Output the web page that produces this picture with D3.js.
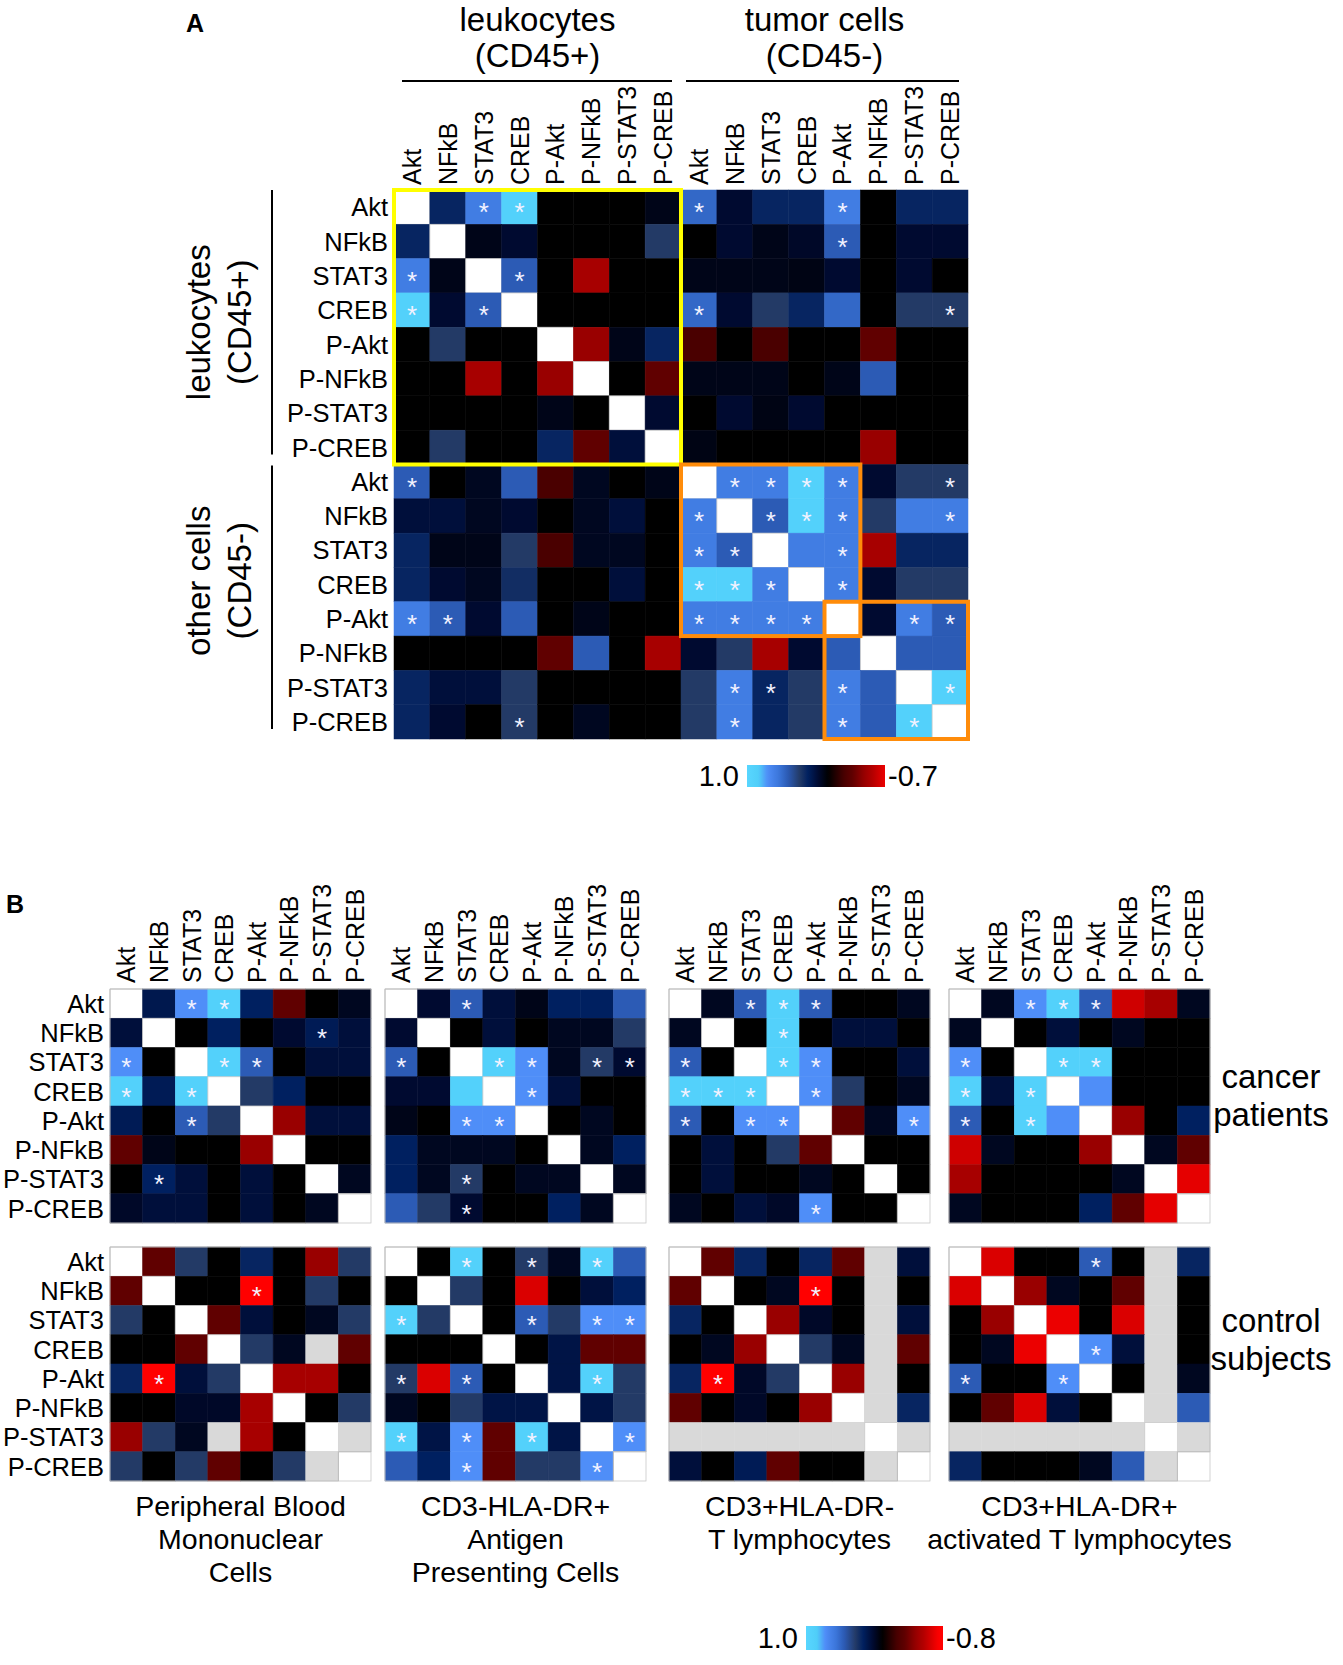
<!DOCTYPE html>
<html>
<head>
<meta charset="utf-8">
<script src="https://cdn.jsdelivr.net/npm/d3@7"></script>
<style>
  body { margin: 0; background: #fff; }
  text { font-family: "Liberation Sans", Arial, sans-serif; fill: #000; }
</style>
</head>
<body>
<svg id="chart" width="1343" height="1665"></svg>
<script>
// ---- data ----
const markers = ["Akt", "NFkB", "STAT3", "CREB", "P-Akt", "P-NFkB", "P-STAT3", "P-CREB"];

// panel A: rows = leukocytes then other cells, columns = leukocytes then tumor cells
const aTopGroups = [["leukocytes", "(CD45+)"], ["tumor cells", "(CD45-)"]];
const aSideGroups = [["leukocytes", "(CD45+)"], ["other cells", "(CD45-)"]];
const aValues = [
  [1, 0.27, 0.65, 0.92, 0, 0, 0, 0.06, 0.55, 0.12, 0.27, 0.27, 0.65, 0, 0.27, 0.27],
  [0.27, 1, 0.06, 0.12, 0, 0, 0, 0.35, 0, 0.12, 0.06, 0.1, 0.5, 0, 0.12, 0.12],
  [0.65, 0.06, 1, 0.5, 0, -0.5, 0, 0, 0.06, 0.06, 0.06, 0.05, 0.12, 0, 0.12, 0],
  [0.92, 0.12, 0.5, 1, 0, 0, 0, 0, 0.55, 0.12, 0.35, 0.27, 0.55, 0, 0.35, 0.35],
  [0, 0.35, 0, 0, 1, -0.45, 0.06, 0.27, -0.2, 0, -0.2, 0, 0, -0.3, 0, 0],
  [0, 0, -0.5, 0, -0.45, 1, 0, -0.3, 0.06, 0.06, 0.06, 0, 0.06, 0.5, 0, 0],
  [0, 0, 0, 0, 0.06, 0, 1, 0.12, 0, 0.12, 0.05, 0.12, 0, 0, 0, 0],
  [0, 0.35, 0, 0, 0.27, -0.3, 0.15, 1, 0.05, 0, 0, 0, 0, -0.45, 0, 0],
  [0.5, 0, 0.08, 0.5, -0.2, 0.08, 0, 0.06, 1, 0.65, 0.65, 0.92, 0.65, 0.12, 0.35, 0.35],
  [0.15, 0.15, 0.08, 0.12, 0, 0.08, 0.15, 0, 0.65, 1, 0.5, 0.92, 0.65, 0.35, 0.65, 0.65],
  [0.27, 0.06, 0.06, 0.35, -0.2, 0.08, 0.08, 0, 0.65, 0.5, 1, 0.65, 0.65, -0.5, 0.27, 0.27],
  [0.27, 0.12, 0.08, 0.3, 0, 0, 0.15, 0, 0.92, 0.92, 0.65, 1, 0.65, 0.12, 0.35, 0.35],
  [0.65, 0.5, 0.12, 0.5, 0, 0.06, 0, 0, 0.65, 0.65, 0.65, 0.65, 1, 0.12, 0.65, 0.5],
  [0, 0, 0, 0, -0.3, 0.5, 0, -0.5, 0.12, 0.35, -0.5, 0.12, 0.5, 1, 0.5, 0.5],
  [0.27, 0.15, 0.15, 0.35, 0, 0, 0, 0, 0.35, 0.65, 0.27, 0.35, 0.65, 0.5, 1, 0.92],
  [0.27, 0.12, 0, 0.35, 0, 0.08, 0, 0, 0.35, 0.65, 0.27, 0.35, 0.65, 0.5, 0.92, 1]
];
// column indices of significant cells (*) per row
const aStars = [
  [2, 3, 8, 12], [12], [0, 3], [0, 2, 8, 15], [], [], [], [],
  [0, 9, 10, 11, 12, 15], [8, 10, 11, 12, 15], [8, 9, 12], [8, 9, 10, 12],
  [0, 1, 8, 9, 10, 11, 14, 15], [], [9, 10, 12, 15], [3, 9, 12, 14]
];
const aRange = [1.0, -0.7];

// panel B
const bPanelTitles = [
  ["Peripheral Blood", "Mononuclear", "Cells"],
  ["CD3-HLA-DR+", "Antigen", "Presenting Cells"],
  ["CD3+HLA-DR-", "T lymphocytes"],
  ["CD3+HLA-DR+", "activated T lymphocytes"]
];
const bRowTitles = [["cancer", "patients"], ["control", "subjects"]];
const bRange = [1.0, -0.8];

const pbmcCancer = [
  [1, 0.2, 0.75, 0.92, 0.25, -0.3, 0, 0.08],
  [0.15, 1, 0, 0.25, 0, 0.12, 0.22, 0.15],
  [0.75, 0, 1, 0.92, 0.5, 0, 0.15, 0.15],
  [0.92, 0.22, 0.92, 1, 0.35, 0.25, 0, 0],
  [0.22, 0, 0.5, 0.35, 1, -0.45, 0.15, 0.15],
  [-0.3, 0.06, 0, 0, -0.45, 1, 0, 0],
  [0, 0.25, 0.15, 0, 0.15, 0, 1, 0.08],
  [0.1, 0.15, 0.15, 0, 0.15, 0, 0.08, 1]
];
const pbmcCancerStars = [[2, 3], [6], [0, 3, 4], [0, 2], [2], [], [1], []];

const apcCancer = [
  [1, 0.12, 0.5, 0.15, 0.06, 0.25, 0.25, 0.5],
  [0.12, 1, 0, 0.15, 0, 0.08, 0.08, 0.35],
  [0.5, 0, 1, 0.92, 0.75, 0.08, 0.35, 0.12],
  [0.12, 0.12, 0.92, 1, 0.75, 0.15, 0, 0],
  [0.06, 0, 0.75, 0.75, 1, 0, 0.08, 0],
  [0.25, 0.08, 0.08, 0.08, 0, 1, 0.08, 0.25],
  [0.25, 0.08, 0.35, 0, 0.08, 0.08, 1, 0.08],
  [0.5, 0.35, 0.12, 0, 0, 0.25, 0.08, 1]
];
const apcCancerStars = [[2], [], [0, 3, 4, 6, 7], [4], [2, 3], [], [2], [2]];

const tCancer = [
  [1, 0.08, 0.5, 0.92, 0.5, 0, 0, 0.08],
  [0.08, 1, 0, 0.92, 0, 0.15, 0.15, 0],
  [0.5, 0, 1, 0.92, 0.75, 0, 0, 0.15],
  [0.92, 0.92, 0.92, 1, 0.75, 0.35, 0, 0.08],
  [0.5, 0, 0.75, 0.75, 1, -0.3, 0.08, 0.75],
  [0, 0.15, 0, 0.35, -0.3, 1, 0, 0],
  [0, 0.15, 0, 0, 0.08, 0, 1, 0],
  [0.08, 0, 0.15, 0.1, 0.75, 0, 0, 1]
];
const tCancerStars = [[2, 3, 4], [3], [0, 3, 4], [0, 1, 2, 4], [0, 2, 3, 7], [], [], [4]];

const actCancer = [
  [1, 0.08, 0.75, 0.92, 0.5, -0.62, -0.5, 0.08],
  [0.08, 1, 0, 0.15, 0, 0.08, 0, 0],
  [0.75, 0, 1, 0.92, 0.92, 0, 0, 0],
  [0.92, 0.15, 0.92, 1, 0.75, 0, 0, 0],
  [0.5, 0, 0.92, 0.75, 1, -0.45, 0, 0.25],
  [-0.62, 0.08, 0, 0, -0.45, 1, 0.08, -0.3],
  [-0.5, 0, 0, 0, 0, 0.08, 1, -0.68],
  [0.08, 0, 0, 0, 0.25, -0.3, -0.68, 1]
];
const actCancerStars = [[2, 3, 4], [], [0, 3, 4], [0, 2], [0, 2], [], [], []];

const pbmcControl = [
  [1, -0.3, 0.35, 0, 0.27, 0, -0.45, 0.35],
  [-0.3, 1, 0, 0, -0.78, 0, 0.35, 0],
  [0.35, 0, 1, -0.3, 0.15, 0, 0.08, 0.35],
  [0, 0, -0.3, 1, 0.35, 0.08, null, -0.3],
  [0.27, -0.78, 0.15, 0.35, 1, -0.5, -0.5, 0],
  [0, 0, 0.1, 0.1, -0.5, 1, 0, 0.35],
  [-0.45, 0.35, 0.08, null, -0.5, 0, 1, null],
  [0.35, 0, 0.35, -0.3, 0, 0.35, null, 1]
];
const pbmcControlStars = [[], [4], [], [], [1], [], [], []];

const apcControl = [
  [1, 0, 0.92, 0, 0.35, 0.08, 0.92, 0.5],
  [0, 1, 0.35, 0, -0.65, 0, 0.15, 0.25],
  [0.92, 0.35, 1, 0, 0.5, 0.35, 0.75, 0.75],
  [0, 0, 0, 1, 0, 0.18, -0.3, -0.3],
  [0.35, -0.65, 0.5, 0, 1, 0.18, 0.92, 0.35],
  [0.08, 0, 0.35, 0.18, 0.18, 1, 0.18, 0.35],
  [0.92, 0.18, 0.75, -0.3, 0.92, 0.18, 1, 0.75],
  [0.5, 0.25, 0.75, -0.3, 0.35, 0.35, 0.75, 1]
];
const apcControlStars = [[2, 4, 6], [], [0, 4, 6, 7], [], [0, 2, 6], [], [0, 2, 4, 7], [2, 6]];

const tControl = [
  [1, -0.3, 0.27, 0, 0.27, -0.3, null, 0.15],
  [-0.3, 1, 0, 0.08, -0.78, 0, null, 0],
  [0.27, 0, 1, -0.45, 0.1, 0, null, 0.15],
  [0, 0.08, -0.45, 1, 0.35, 0.08, null, -0.3],
  [0.27, -0.78, 0.1, 0.35, 1, -0.45, null, 0],
  [-0.3, 0, 0.1, 0, -0.45, 1, null, 0.27],
  [null, null, null, null, null, null, 1, null],
  [0.15, 0, 0.22, -0.3, 0, 0, null, 1]
];
const tControlStars = [[], [4], [], [], [1], [], [], []];

const actControl = [
  [1, -0.65, 0, 0, 0.5, 0, null, 0.27],
  [-0.65, 1, -0.45, 0.08, 0, -0.3, null, 0],
  [0, -0.45, 1, -0.7, 0, -0.65, null, 0],
  [0, 0.08, -0.7, 1, 0.75, 0.15, null, 0],
  [0.5, 0, 0, 0.75, 1, 0, null, 0.08],
  [0, -0.3, -0.65, 0.15, 0, 1, null, 0.5],
  [null, null, null, null, null, null, 1, null],
  [0.27, 0, 0, 0, 0.08, 0.5, null, 1]
];
const actControlStars = [[4], [], [], [4], [0, 3], [], [], []];

const bCancer = [pbmcCancer, apcCancer, tCancer, actCancer];
const bCancerStars = [pbmcCancerStars, apcCancerStars, tCancerStars, actCancerStars];
const bControl = [pbmcControl, apcControl, tControl, actControl];
const bControlStars = [pbmcControlStars, apcControlStars, tControlStars, actControlStars];

// ---- drawing ----
const svg = d3.select("#chart");

// correlation colour scale: cyan (1.0) -> blue -> black (0) -> red (negative)
const color = d3.scaleLinear()
  .domain([1.0, 0.85, 0.75, 0.6, 0.5, 0.35, 0.25, 0.12, 0, -0.2, -0.3, -0.45, -0.55, -0.75])
  .range(["#58d6ff", "#4fcdf8", "#4f8ef8", "#3a74d8", "#2c5bb5", "#233a66", "#002060", "#000a30",
          "#000000", "#4a0000", "#600000", "#990000", "#b50000", "#ff0000"])
  .clamp(true);

function cellFill(d) {
  if (d.r === d.c) return "#ffffff";
  if (d.v === null) return "#d9d9d9";
  return color(d.v);
}

// draws one n x n correlation matrix, returns its band scales
function drawMatrix(g, values, stars, x0, y0, w, h, starSize, outline) {
  const n = values.length;
  const x = d3.scaleBand().domain(d3.range(n)).range([x0, x0 + w]);
  const y = d3.scaleBand().domain(d3.range(n)).range([y0, y0 + h]);
  const cells = values.flatMap((row, r) => row.map((v, c) => ({ r, c, v })));

  g.append("g").selectAll("rect")
    .data(cells)
    .join("rect")
    .attr("x", d => x(d.c))
    .attr("y", d => y(d.r))
    .attr("width", x.bandwidth())
    .attr("height", y.bandwidth())
    .attr("fill", cellFill)
    .attr("stroke", d => d.r === d.c ? "#c8c8c8" : cellFill(d))
    .attr("stroke-width", d => d.r === d.c ? 0.8 : 0.5);

  if (outline) {
    // thin frame, left open around the last diagonal cell
    const x1 = x0 + w, y1 = y0 + h, bw = x.bandwidth(), bh = y.bandwidth();
    g.append("path")
      .attr("d", `M${x0},${y0}H${x1}V${y1 - bh}H${x1 - bw}V${y1}H${x0}Z`)
      .attr("fill", "none")
      .attr("stroke", "#bdbdbd")
      .attr("stroke-width", 1);
  }

  const starCells = stars.flatMap((cols, r) => cols.map(c => ({ r, c })));
  g.append("g").selectAll("text")
    .data(starCells)
    .join("text")
    .attr("x", d => x(d.c) + x.bandwidth() / 2)
    .attr("y", d => y(d.r) + y.bandwidth() / 2 + starSize * 0.55)
    .attr("text-anchor", "middle")
    .style("font-size", starSize + "px")
    .style("fill", "#f2f2ff")
    .text("*");

  return { x, y };
}

function columnLabels(g, x, names, bottom, size) {
  g.append("g").selectAll("text")
    .data(names)
    .join("text")
    .attr("transform", (d, i) => `translate(${x(i) + x.bandwidth() / 2 + size * 0.36},${bottom}) rotate(-90)`)
    .style("font-size", size + "px")
    .text(d => d);
}

function rowLabels(g, y, names, right, size) {
  g.append("g").selectAll("text")
    .data(names)
    .join("text")
    .attr("x", right)
    .attr("y", (d, i) => y(i) + y.bandwidth() / 2 + size * 0.36)
    .attr("text-anchor", "end")
    .style("font-size", size + "px")
    .text(d => d);
}

function legend(g, range, x0, y0, w, h, size, id) {
  const grad = svg.append("defs").append("linearGradient").attr("id", id);
  const ts = d3.range(0, 1.0001, 0.02);
  grad.selectAll("stop")
    .data(ts)
    .join("stop")
    .attr("offset", t => t)
    .attr("stop-color", t => color(range[0] + t * (range[1] - range[0])));
  g.append("rect")
    .attr("x", x0).attr("y", y0)
    .attr("width", w).attr("height", h)
    .attr("fill", `url(#${id})`);
  g.append("text")
    .attr("x", x0 - 8).attr("y", y0 + h / 2 + size * 0.36)
    .attr("text-anchor", "end")
    .style("font-size", size + "px")
    .text(range[0].toFixed(1));
  g.append("text")
    .attr("x", x0 + w + 3).attr("y", y0 + h / 2 + size * 0.36)
    .style("font-size", size + "px")
    .text(range[1].toFixed(1));
}

// ===== Panel A =====
const gA = svg.append("g");
gA.append("text").attr("x", 186).attr("y", 32)
  .style("font-size", "25px").style("font-weight", "bold").text("A");

const aNames = markers.concat(markers);
const A = drawMatrix(gA, aValues, aStars, 394, 190, 574, 549, 26, false);
columnLabels(gA, A.x, aNames, 185, 25);
rowLabels(gA, A.y, aNames, 388, 25.5);

// group headers along the top
aTopGroups.forEach((lines, k) => {
  const left = A.x(k * 8), right = A.x(k * 8 + 7) + A.x.bandwidth();
  const cx = (left + right) / 2;
  gA.append("line")
    .attr("x1", left + (k === 0 ? 8 : 5)).attr("x2", right - 9)
    .attr("y1", 81).attr("y2", 81)
    .attr("stroke", "#000").attr("stroke-width", 2);
  lines.forEach((t, j) => {
    gA.append("text").attr("x", cx).attr("y", 31 + j * 36)
      .attr("text-anchor", "middle").style("font-size", "33px").text(t);
  });
});

// group labels along the left side
const sideShift = [5, 21];
aSideGroups.forEach((lines, k) => {
  const top = A.y(k * 8), bottom = A.y(k * 8 + 7) + A.y.bandwidth();
  const cy = (top + bottom) / 2 - sideShift[k];
  gA.append("line")
    .attr("x1", 272).attr("x2", 272)
    .attr("y1", top + (k === 0 ? 0 : 1)).attr("y2", bottom - 10)
    .attr("stroke", "#000").attr("stroke-width", 2);
  lines.forEach((t, j) => {
    gA.append("text")
      .attr("transform", `translate(${210 + j * 41},${cy}) rotate(-90)`)
      .attr("text-anchor", "middle").style("font-size", "33px").text(t);
  });
});

// highlight boxes
function box(g, sc, r0, r1, c0, c1, stroke) {
  g.append("rect")
    .attr("x", sc.x(c0)).attr("y", sc.y(r0))
    .attr("width", sc.x(c1) + sc.x.bandwidth() - sc.x(c0))
    .attr("height", sc.y(r1) + sc.y.bandwidth() - sc.y(r0))
    .attr("fill", "none").attr("stroke", stroke).attr("stroke-width", 4);
}
box(gA, A, 0, 7, 0, 7, "#ffff00");
box(gA, A, 8, 12, 8, 12, "#ff8c0a");
box(gA, A, 12, 15, 12, 15, "#ff8c0a");

legend(gA, aRange, 747, 765, 138, 22, 29, "gradA");

// ===== Panel B =====
const gB = svg.append("g");
gB.append("text").attr("x", 6).attr("y", 913)
  .style("font-size", "25px").style("font-weight", "bold").text("B");

const bLefts = [110, 385, 669, 949];
const bTops = [989, 1247];
const bW = 261, bH = 234;

[bCancer, bControl].forEach((set, row) => {
  const starSet = row === 0 ? bCancerStars : bControlStars;
  set.forEach((vals, k) => {
    const M = drawMatrix(gB, vals, starSet[k], bLefts[k], bTops[row], bW, bH, 26, true);
    if (row === 0) columnLabels(gB, M.x, markers, bTops[0] - 6, 25);
    if (k === 0) rowLabels(gB, M.y, markers, 104, 25.5);
  });
});

// row titles on the right
const rowTitleBase = [[1088, 1126], [1332, 1370]];
bRowTitles.forEach((lines, row) => {
  lines.forEach((t, j) => {
    gB.append("text").attr("x", 1271).attr("y", rowTitleBase[row][j])
      .attr("text-anchor", "middle").style("font-size", "33px").text(t);
  });
});

// cell population titles underneath
bPanelTitles.forEach((lines, k) => {
  lines.forEach((t, j) => {
    gB.append("text").attr("x", bLefts[k] + bW / 2).attr("y", 1516 + j * 33)
      .attr("text-anchor", "middle").style("font-size", "28.5px").text(t);
  });
});

legend(gB, bRange, 806, 1626, 137, 24, 29, "gradB");
</script>
</body>
</html>
